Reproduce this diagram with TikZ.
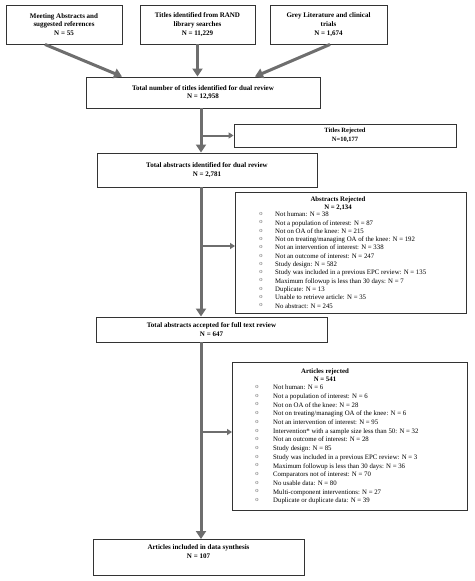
\documentclass[tikz,border=0pt]{standalone}
\usepackage{fontspec}
\setmainfont{Liberation Serif}
\usetikzlibrary{arrows.meta,calc}
\definecolor{arrowgray}{HTML}{6E6E6E}
\definecolor{boxline}{HTML}{333333}
\begin{document}
\begin{tikzpicture}[x=1pt,y=-1pt,
  box/.style={draw=boxline,line width=0.9pt,fill=white,inner sep=0pt,align=center,font=\bfseries\fontsize{7}{8.8}\selectfont},
  bigarrow/.style={draw=arrowgray,line width=3pt,-{Triangle[length=8pt,width=10pt]}},
  smallarrow/.style={draw=arrowgray,line width=2pt,-{Triangle[length=5pt,width=6pt]}},
  listtext/.style={anchor=west,inner sep=0pt,font=\fontsize{6.8}{8}\selectfont,text height=1.5ex,text depth=0.3ex},
  bullet/.style={anchor=center,inner sep=0pt,font=\fontsize{6.5}{7}\selectfont,text=black!60},
  title/.style={anchor=center,inner sep=0pt,font=\bfseries\fontsize{6.8}{8}\selectfont,text height=1.5ex,text depth=0.3ex}]
\useasboundingbox[fill=white] (0,0) rectangle (474,581);

% top sources
\node[box,minimum width=116pt,minimum height=39pt] (b1) at (64,24.5) {Meeting Abstracts and\\suggested references\\N = 55};
\node[box,minimum width=115pt,minimum height=39pt] (b2) at (197.5,24.5) {Titles identified from RAND\\library searches\\N = 11,229};
\node[box,minimum width=117pt,minimum height=39pt] (b3) at (328.5,24.5) {Grey Literature and clinical\\trials\\N = 1,674};

% total titles
\node[box,minimum width=234pt,minimum height=31pt] (total) at (203,92.5) {Total number of titles identified for dual review\\N = 12,958};

\draw[bigarrow] ($(b1.south)+(-19,0)$) -- ($(total.north)+(-81,0)$);
\draw[bigarrow] (b2.south) -- (b2.south |- total.north);
\draw[bigarrow] ($(b3.south)+(1.5,0)$) -- ($(total.north)+(52,0)$);

% titles rejected
\node[box,minimum width=222pt,minimum height=23pt,font=\bfseries\fontsize{6.5}{8.8}\selectfont] (rej1) at (345,135.5) {Titles Rejected\\N=10,177};

% total abstracts
\node[box,minimum width=220pt,minimum height=34pt] (tabs) at (207,170) {Total abstracts identified for dual review\\N = 2,781};

\coordinate (j1) at ($(total.south)+(-2,0)$);
\draw[bigarrow] (j1) -- (j1 |- tabs.north);
\draw[smallarrow] (j1 |- rej1.west) -- (rej1.west);

% abstracts rejected
\node[draw=boxline,line width=0.9pt,minimum width=231pt,minimum height=121pt,anchor=north west,inner sep=0pt] (rejA) at (235,192) {};
\node[title] (rejAt) at (338,199) {Abstracts Rejected};
\node[title] (rejAn) at (338,206.5) {N = 2,134};
\foreach \t [count=\i] in {
  {Not human: N = 38},
  {Not a population of interest: N = 87},
  {Not on OA of the knee: N = 215},
  {Not on treating/managing OA of the knee: N = 192},
  {Not an intervention of interest: N = 338},
  {Not an outcome of interest: N = 247},
  {Study design: N = 582},
  {Study was included in a previous EPC\ review: N = 135},
  {Maximum followup is less than 30 days: N = 7},
  {Duplicate: N = 13},
  {Unable to retrieve article: N = 35},
  {No abstract: N = 245}}{
  \node[bullet] (ab-\i) at (261,{214+(\i-1)*8.3}) {o};
  \node[listtext] (at-\i) at (275,{214+(\i-1)*8.3}) {\t};
}

% accepted
\node[box,minimum width=231pt,minimum height=25pt] (acc) at (211.5,329.5) {Total abstracts accepted for full text review\\N = 647};

\coordinate (j2) at (201,187);
\draw[bigarrow] (j2) -- (j2 |- acc.north);
\coordinate (k2) at (201,246);
\draw[smallarrow] (k2) -- (k2 -| rejA.west);

% articles rejected
\node[draw=boxline,line width=0.9pt,minimum width=235pt,minimum height=148pt,anchor=north west,inner sep=0pt] (artR) at (232,362) {};
\node[title] (artRt) at (325,370.5) {Articles rejected};
\node[title] (artRn) at (325,378.5) {N = 541};
\foreach \t [count=\i] in {
  {Not human: N = 6},
  {Not a population of interest: N = 6},
  {Not on OA of the knee: N = 28},
  {Not on treating/managing OA of the knee: N = 6},
  {Not an intervention of interest: N = 95},
  {Intervention* with a sample size less than 50: N = 32},
  {Not an outcome of interest: N = 28},
  {Study design: N = 85},
  {Study was included in a previous EPC review: N = 3},
  {Maximum followup is less than 30 days: N = 36},
  {Comparators not of interest: N = 70},
  {No usable data: N = 80},
  {Multi-component interventions: N = 27},
  {Duplicate or duplicate data: N = 39}}{
  \node[bullet] (bb-\i) at (257,{387+(\i-1)*8.7}) {o};
  \node[listtext] (bt-\i) at (273,{387+(\i-1)*8.7}) {\t};
}

% final
\node[draw=boxline,line width=0.9pt,minimum width=211pt,minimum height=36pt,anchor=north west,inner sep=0pt] (final) at (93,539) {};
\node[box,draw=none,fill=none] (finalt) at (198.5,551.5) {Articles included in data synthesis\\N = 107};

\coordinate (j3) at (201,342);
\draw[bigarrow] (j3) -- (j3 |- final.north);
\coordinate (k3) at (201,432);
\draw[smallarrow] (k3) -- (k3 -| artR.west);
\end{tikzpicture}
\end{document}
